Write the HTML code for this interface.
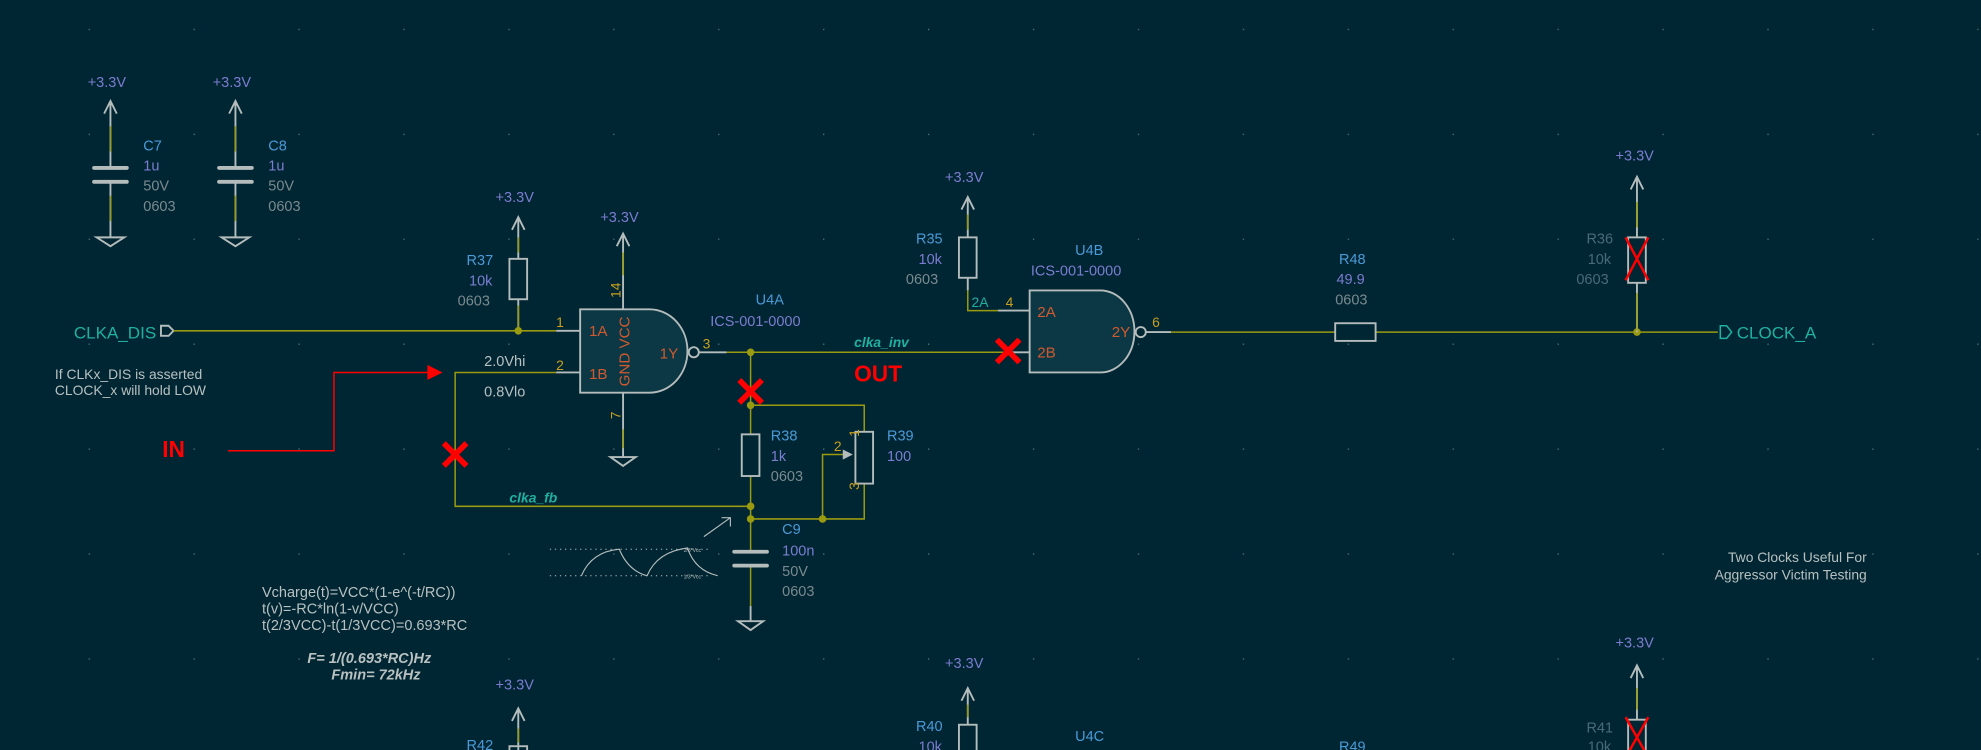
<!DOCTYPE html>
<html><head><meta charset="utf-8"><style>
html,body{margin:0;padding:0;background:#002633;}
svg{display:block}
text{font-family:"Liberation Sans",sans-serif;font-size:11.5px;}
.ref{fill:#4a9ad8}.val{fill:#7c7cd0}.fp{fill:#7a8a8e}.pwr{fill:#7c7cd0}
.pin{fill:#c8a020;font-size:11px}.pn{fill:#d05a30;font-size:12px}
.net{fill:#20b0a0;font-style:italic;font-weight:bold;font-size:11px}
.gl{fill:#b8c0c0}
.w{stroke:#9a9a10;stroke-width:1.2;fill:none}
.c{stroke:#b4bcbc;stroke-width:1.5;fill:none}
.j{fill:#9a9a10}
.x{stroke:#ff0000;stroke-width:4.5}
</style></head><body>
<svg width="1981" height="750" viewBox="0 0 1568 594" xmlns="http://www.w3.org/2000/svg">
<defs>
<pattern id="g" x="69.7" y="22.8" width="83.1" height="83.1" patternUnits="userSpaceOnUse"><rect x="0" y="0" width="1" height="1" fill="#5a7a80"/></pattern>
</defs>
<rect width="1568" height="594" fill="#002633"/>
<rect width="1568" height="594" fill="url(#g)"/>

<!-- C7 / C8 -->
<g>
<text class="pwr" x="69" y="69">+3.3V</text>
<path class="c" d="M82,90 L87,80 L92,90 M87,80 L87,133"/><line class="w" x1="87" y1="100" x2="87" y2="120"/>
<path class="c" d="M87,144 L87,188" /><line class="w" x1="87" y1="155" x2="87" y2="175"/>
<line x1="74" y1="133" x2="100" y2="133" stroke="#b4bcbc" stroke-width="3" stroke-linecap="round"/>
<line x1="74" y1="144" x2="100" y2="144" stroke="#b4bcbc" stroke-width="3" stroke-linecap="round"/>
<path class="c" d="M76,188 L98,188 L87,195 Z"/>
<text class="ref" x="113" y="119">C7</text><text class="val" x="113" y="135">1u</text><text class="fp" x="113" y="151">50V</text><text class="fp" x="113" y="167">0603</text>
</g>
<g transform="translate(99,0)">
<text class="pwr" x="69" y="69">+3.3V</text>
<path class="c" d="M82,90 L87,80 L92,90 M87,80 L87,133"/><line class="w" x1="87" y1="100" x2="87" y2="120"/>
<path class="c" d="M87,144 L87,188" /><line class="w" x1="87" y1="155" x2="87" y2="175"/>
<line x1="74" y1="133" x2="100" y2="133" stroke="#b4bcbc" stroke-width="3" stroke-linecap="round"/>
<line x1="74" y1="144" x2="100" y2="144" stroke="#b4bcbc" stroke-width="3" stroke-linecap="round"/>
<path class="c" d="M76,188 L98,188 L87,195 Z"/>
<text class="ref" x="113" y="119">C8</text><text class="val" x="113" y="135">1u</text><text class="fp" x="113" y="151">50V</text><text class="fp" x="113" y="167">0603</text>
</g>

<!-- CLKA_DIS -->
<text x="58" y="268" fill="#20b0a0" style="font-size:13.5px">CLKA_DIS</text>
<path class="c" d="M127,258 L133,258 L137,262 L133,266 L127,266 Z" stroke="#20b0a0"/>
<line class="w" x1="137" y1="262" x2="440" y2="262"/>
<line class="c" x1="440" y1="262" x2="459" y2="262"/>
<text class="gl" x="43" y="300" style="font-size:11px">If CLKx_DIS is asserted</text>
<text class="gl" x="43" y="313" style="font-size:11px">CLOCK_x will hold LOW</text>

<!-- R37 -->
<text class="pwr" x="392" y="160">+3.3V</text>
<path class="c" d="M405,182 L410,172 L415,182 M410,172 L410,205 M410,237 L410,262"/>
<line class="w" x1="410" y1="188" x2="410" y2="200"/><line class="w" x1="410" y1="242" x2="410" y2="262"/>
<rect class="c" x="403" y="205" width="14" height="32"/>
<circle class="j" cx="410" cy="262" r="3"/>
<text class="ref" x="369" y="210">R37</text><text class="val" x="371" y="226">10k</text><text class="fp" x="362" y="242">0603</text>

<!-- U4A -->
<text class="pwr" x="475" y="176">+3.3V</text>
<path class="c" d="M488,195 L493,185 L498,195 M493,185 L493,245 M493,311 L493,362"/>
<line class="w" x1="493" y1="200" x2="493" y2="218"/><line class="w" x1="493" y1="340" x2="493" y2="355"/>
<path class="c" d="M483,362 L503,362 L493,369 Z"/>
<path d="M459,245 L514,245 A30,33 0 0 1 514,311 L459,311 Z" fill="#0b3844" stroke="#b4bcbc" stroke-width="1.5"/>
<circle class="c" cx="549" cy="279" r="4"/>
<line class="c" x1="553" y1="279" x2="575" y2="279"/>
<line class="c" x1="440" y1="295" x2="459" y2="295"/>
<text class="pn" x="466" y="266">1A</text><text class="pn" x="466" y="300">1B</text><text class="pn" x="522" y="284">1Y</text>
<text class="pn" transform="translate(498,306) rotate(-90)">GND VCC</text>
<text class="pin" transform="translate(491,236) rotate(-90)">14</text>
<text class="pin" transform="translate(491,332) rotate(-90)">7</text>
<text class="pin" x="440" y="259">1</text><text class="pin" x="440" y="293">2</text><text class="pin" x="556" y="276">3</text>
<text class="ref" x="598" y="241">U4A</text><text class="val" x="562" y="258">ICS-001-0000</text>
<text class="gl" x="383" y="290">2.0Vhi</text><text class="gl" x="383" y="314">0.8Vlo</text>

<!-- feedback loop -->
<path class="w" d="M440,295 L360,295 L360,401 L594,401"/>
<text class="net" x="403" y="398">clka_fb</text>
<path class="w" d="M575,279 L798,279"/>
<line class="c" x1="798" y1="279" x2="816" y2="279"/>
<text class="net" x="676" y="275">clka_inv</text>
<path class="w" d="M594,279 L594,344 M594,377 L594,437 M594,448 L594,480"/>
<rect class="c" x="587" y="344" width="14" height="33"/>
<circle class="j" cx="594" cy="279" r="3"/><circle class="j" cx="594" cy="321" r="3"/>
<circle class="j" cx="594" cy="401" r="3"/><circle class="j" cx="594" cy="411" r="3"/><circle class="j" cx="651" cy="411" r="3"/>
<text class="ref" x="610" y="349">R38</text><text class="val" x="610" y="365">1k</text><text class="fp" x="610" y="381">0603</text>
<!-- R39 pot -->
<path class="w" d="M594,321 L684,321 L684,342 M684,383 L684,411 L594,411 M651,411 L651,360 L668,360"/>
<rect class="c" x="677" y="342" width="14" height="41"/>
<path d="M667,356 L675,360 L667,364 Z" fill="#b4bcbc"/>
<text class="pin" x="660" y="357">2</text><text class="pin" transform="translate(680,346) rotate(-90)">1</text><text class="pin" transform="translate(680,388) rotate(-90)">3</text>
<text class="ref" x="702" y="349">R39</text><text class="val" x="702" y="365">100</text>
<!-- C9 -->
<line x1="581" y1="437" x2="607" y2="437" stroke="#b4bcbc" stroke-width="3" stroke-linecap="round"/>
<line x1="581" y1="448" x2="607" y2="448" stroke="#b4bcbc" stroke-width="3" stroke-linecap="round"/>
<path class="c" d="M584,492 L604,492 L594,499 Z"/><line class="c" x1="594" y1="480" x2="594" y2="492"/>
<text class="ref" x="619" y="423">C9</text><text class="val" x="619" y="440">100n</text><text class="fp" x="619" y="456">50V</text><text class="fp" x="619" y="472">0603</text>
<!-- waveform -->
<line x1="435" y1="435" x2="560" y2="435" stroke="#b4bcbc" stroke-width="0.8" stroke-dasharray="1,3"/>
<line x1="435" y1="456" x2="560" y2="456" stroke="#b4bcbc" stroke-width="0.8" stroke-dasharray="1,3"/>
<path d="M460,456 Q468,437 490,435 Q497,452 512,456 Q520,437 544,434 Q550,452 568,456" stroke="#b4bcbc" stroke-width="0.9" fill="none"/>
<g transform="translate(541,437) scale(0.5)"><text class="gl" x="0" y="0" style="font-size:8px">2/3*Vcc</text></g>
<g transform="translate(541,458) scale(0.5)"><text class="gl" x="0" y="0" style="font-size:8px">1/3*Vcc</text></g>
<path d="M557,425 L578,410 M571,410 L578,410 L578,417" stroke="#b4bcbc" stroke-width="0.9" fill="none"/>
<!-- equations -->
<text class="gl" x="207" y="473">Vcharge(t)=VCC*(1-e^(-t/RC))</text>
<text class="gl" x="207" y="486">t(v)=-RC*ln(1-v/VCC)</text>
<text class="gl" x="207" y="499">t(2/3VCC)-t(1/3VCC)=0.693*RC</text>
<text class="gl" x="243" y="525" style="font-weight:bold;font-style:italic">F= 1/(0.693*RC)Hz</text>
<text class="gl" x="262" y="538" style="font-weight:bold;font-style:italic">Fmin= 72kHz</text>

<!-- IN arrow -->
<path d="M180,357 L264,357 L264,295 L340,295" stroke="#ff0000" stroke-width="1.2" fill="none"/>
<path d="M338,289 L350,295 L338,301 Z" fill="#ff0000"/>
<text x="128" y="362" fill="#ff0000" style="font-size:18px;font-weight:bold">IN</text>
<text x="676" y="302" fill="#ff0000" style="font-size:18px;font-weight:bold">OUT</text>
<!-- Xs -->
<g class="x"><path d="M351,351 L369,369 M369,351 L351,369"/><path d="M585,301 L603,319 M603,301 L585,319"/><path d="M789,269 L807,287 M807,269 L789,287"/></g>

<!-- R35 + U4B -->
<text class="pwr" x="748" y="144">+3.3V</text>
<path class="c" d="M761,166 L766,156 L771,166 M766,156 L766,188 M766,220 L766,230"/>
<line class="w" x1="766" y1="170" x2="766" y2="182"/>
<path class="w" d="M766,230 L766,246 L790,246"/><line class="c" x1="790" y1="246" x2="815" y2="246"/>
<rect class="c" x="759" y="188" width="14" height="32"/>
<text class="ref" x="725" y="193">R35</text><text class="val" x="727" y="209">10k</text><text class="fp" x="717" y="225">0603</text>
<text x="769" y="243" fill="#20b0a0" style="font-size:11px">2A</text><text class="pin" x="796" y="243">4</text>
<path d="M815,230 L871,230 A27,32.5 0 0 1 871,295 L815,295 Z" fill="#0b3844" stroke="#b4bcbc" stroke-width="1.5"/>
<circle class="c" cx="903" cy="263" r="4"/>
<text class="pn" x="821" y="251">2A</text><text class="pn" x="821" y="283">2B</text><text class="pn" x="880" y="267">2Y</text>
<text class="pin" x="912" y="259">6</text>
<text class="ref" x="851" y="202">U4B</text><text class="val" x="816" y="218">ICS-001-0000</text>
<line class="c" x1="907" y1="263" x2="927" y2="263"/>
<path class="w" d="M927,263 L1057,263 M1089,263 L1360,263"/>
<rect class="c" x="1057" y="256" width="32" height="14"/>
<text class="ref" x="1060" y="209">R48</text><text class="val" x="1058" y="225">49.9</text><text class="fp" x="1057" y="241">0603</text>
<circle class="j" cx="1296" cy="263" r="3"/>
<!-- R36 -->
<text class="pwr" x="1279" y="127">+3.3V</text>
<path class="c" d="M1291,150 L1296,140 L1301,150 M1296,140 L1296,188 M1296,224 L1296,263"/>
<line class="w" x1="1296" y1="160" x2="1296" y2="180"/><line class="w" x1="1296" y1="232" x2="1296" y2="262"/>
<rect class="c" x="1289" y="188" width="14" height="36"/>
<path d="M1287,188 L1305,222 M1305,188 L1287,222" stroke="#ff0000" stroke-width="2"/>
<text fill="#4a6a78" x="1256" y="193">R36</text><text fill="#4a6a78" x="1257" y="209">10k</text><text fill="#4a6a78" x="1248" y="225">0603</text>
<path d="M1362,258 L1367,258 L1371,263 L1367,268 L1362,268 Z" fill="none" stroke="#20b0a0" stroke-width="1.2"/>
<text x="1375" y="268" fill="#20b0a0" style="font-size:13.5px">CLOCK_A</text>
<text class="gl" x="1478" y="445" text-anchor="end" style="font-size:11px">Two Clocks Useful For</text>
<text class="gl" x="1478" y="459" text-anchor="end" style="font-size:11px">Aggressor Victim Testing</text>

<!-- bottom partial -->
<text class="pwr" x="392" y="546">+3.3V</text>
<path class="c" d="M405,571 L410,561 L415,571 M410,561 L410,594"/><line class="w" x1="410" y1="577" x2="410" y2="588"/>
<rect class="c" x="403" y="591" width="14" height="10"/>
<text class="ref" x="369" y="594">R42</text>
<text class="pwr" x="748" y="529">+3.3V</text>
<path class="c" d="M761,555 L766,545 L771,555 M766,545 L766,574"/><line class="w" x1="766" y1="558" x2="766" y2="568"/>
<rect class="c" x="759" y="574" width="14" height="25"/>
<text class="ref" x="725" y="579">R40</text><text class="val" x="727" y="595">10k</text>
<text class="ref" x="851" y="587">U4C</text>
<text class="ref" x="1060" y="595">R49</text>
<text class="pwr" x="1279" y="513">+3.3V</text>
<path class="c" d="M1291,537 L1296,527 L1301,537 M1296,527 L1296,570"/><line class="w" x1="1296" y1="545" x2="1296" y2="562"/>
<rect class="c" x="1289" y="570" width="14" height="30"/>
<path d="M1287,568 L1305,600 M1305,568 L1287,600" stroke="#ff0000" stroke-width="2"/>
<text fill="#4a6a78" x="1256" y="580">R41</text><text fill="#4a6a78" x="1257" y="595">10k</text>
</svg>
</body></html>
